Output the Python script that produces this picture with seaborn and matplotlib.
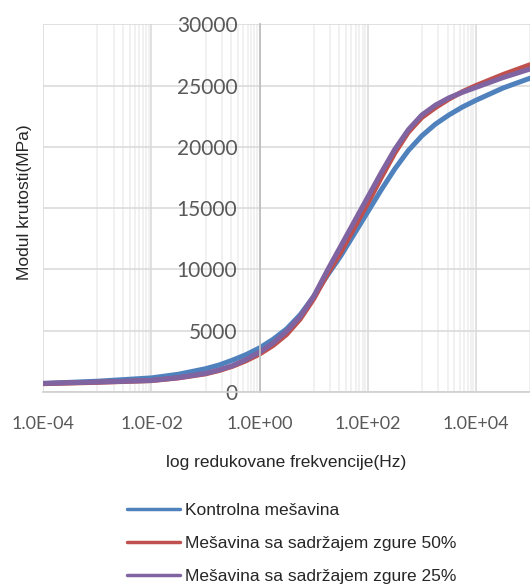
"""
plot.py
Dynamic modulus master curves (Modul krutosti vs reduced frequency) for the
control mix and two slag mixes, redrawn in the Excel look of the original.
"""

import matplotlib
matplotlib.use("Agg")
import matplotlib.pyplot as plt
from matplotlib.ticker import LogLocator, MultipleLocator, FuncFormatter, NullFormatter
import numpy as np
import pandas as pd
import seaborn as sns

# values (log10 of reduced frequency, MPa)
LOG_FREQ = [-4, -3, -2, -1.5, -1, -0.75, -0.5, -0.25, 0, 0.25, 0.5, 0.75,
            1, 1.25, 1.5, 1.75, 2, 2.25, 2.5, 2.75, 3, 3.25, 3.5, 3.75,
            4, 4.5, 5]
KONTROLNA = [700, 880, 1150, 1450, 1900, 2200, 2600, 3050, 3600, 4300,
             5150, 6300, 7800, 9500, 11100, 12900, 14700, 16500, 18200,
             19700, 20900, 21850, 22600, 23250, 23800, 24800, 25600]
ZGURA_50 = [680, 790, 930, 1150, 1480, 1750, 2100, 2550, 3100, 3800,
            4700, 5950, 7600, 9600, 11400, 13400, 15400, 17500, 19500,
            21200, 22400, 23200, 23900, 24500, 25000, 25900, 26700]
ZGURA_25 = [700, 810, 940, 1170, 1520, 1800, 2150, 2650, 3250, 4000,
            4950, 6150, 7800, 9900, 11900, 13900, 15900, 17900, 19800,
            21400, 22600, 23400, 24000, 24450, 24850, 25650, 26350]

SERIES_NAMES = ["Kontrolna mešavina",
                "Mešavina sa sadržajem zgure 50%",
                "Mešavina sa sadržajem zgure 25%"]
COLORS = ["#4f81bd", "#c0504d", "#8064a2"]

X_LIMITS = (1e-4, 1e5)
Y_LIMITS = (0, 30000)
Y_STEP = 5000
X_LABEL = "log redukovane frekvencije(Hz)"
Y_LABEL = "Modul krutosti(MPa)"

W, H = 530, 585
TEXT_FONT = "Liberation Sans"


def build_frame():
    freq = 10.0 ** np.array(LOG_FREQ)
    parts = []
    for name, vals in zip(SERIES_NAMES, [KONTROLNA, ZGURA_50, ZGURA_25]):
        parts.append(pd.DataFrame({"freq": freq, "modul": vals, "mix": name}))
    return pd.concat(parts, ignore_index=True)


def main():
    sns.set_style("white")
    plt.rcParams["font.family"] = ["Lato", "DejaVu Sans"]

    df = build_frame()

    fig = plt.figure(figsize=(W / 100, H / 100), dpi=100)
    left, bottom, top = 43.3, 392, 24.3
    ax = fig.add_axes([left / W, 1 - bottom / H, 1 - left / W, (bottom - top) / H])
    ax.set_xscale("log")

    sns.lineplot(data=df, x="freq", y="modul", hue="mix", hue_order=SERIES_NAMES,
                 palette=COLORS, linewidth=3.6, estimator=None, sort=False, ax=ax)

    ax.set_xlim(*X_LIMITS)
    ax.set_ylim(*Y_LIMITS)

    # Excel log axis with base 100: majors every two decades, minors in between
    ax.xaxis.set_major_locator(LogLocator(base=100))
    ax.xaxis.set_minor_locator(LogLocator(base=100, subs=np.arange(10, 100, 10)))
    ax.xaxis.set_major_formatter(FuncFormatter(lambda v, _: f"{v:.1E}"))
    ax.xaxis.set_minor_formatter(NullFormatter())
    ax.yaxis.set_major_locator(MultipleLocator(Y_STEP))

    ax.set_axisbelow(True)
    ax.grid(which="major", axis="both", color="#d9d9d9", linewidth=1.1)
    ax.grid(which="minor", axis="x", color="#eeeeee", linewidth=1.1)

    for side in ["top", "right"]:
        ax.spines[side].set_visible(False)
    ax.spines["left"].set_position(("data", 1.0))
    ax.spines["left"].set_color("#bfbfbf")
    ax.spines["left"].set_linewidth(1.3)
    ax.spines["bottom"].set_color("#d0d0d0")
    ax.spines["bottom"].set_linewidth(1.2)

    ax.tick_params(axis="both", which="both", length=0, labelcolor="#595959")
    ax.tick_params(axis="x", pad=17, labelsize=13)
    ax.tick_params(axis="y", pad=16, labelsize=15)

    ax.set_xlabel(X_LABEL, fontsize=12.5, family=TEXT_FONT, va="center")
    ax.xaxis.set_label_coords((286 - left) / (W - left), (bottom - 463) / (bottom - top))
    ax.set_ylabel(Y_LABEL, fontsize=12.5, family=TEXT_FONT, va="center")
    ax.yaxis.set_label_coords((25 - left) / (W - left), (bottom - 202.5) / (bottom - top))

    handles, labels = ax.get_legend_handles_labels()
    ax.get_legend().remove()
    leg = fig.legend(handles, labels, loc="center left",
                     bbox_to_anchor=(126.8 / W, 1 - 543.3 / H),
                     frameon=False, handlelength=3.05, handletextpad=0.3,
                     labelspacing=1.04, borderpad=0, borderaxespad=0,
                     prop={"family": TEXT_FONT, "size": 12.5})
    for line in leg.get_lines():
        line.set_linewidth(2.5)

    fig.savefig("out.png", dpi=100)
    plt.close(fig)


if __name__ == "__main__":
    main()
